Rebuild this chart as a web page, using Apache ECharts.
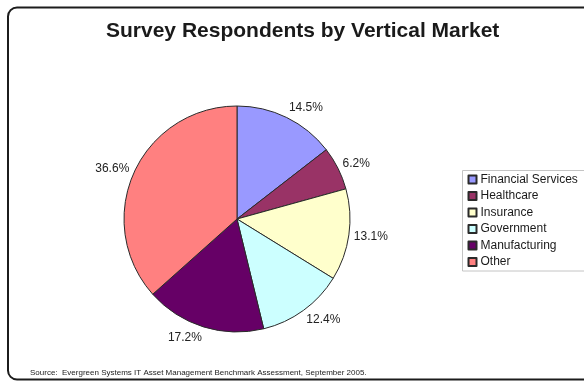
<!DOCTYPE html>
<html>
<head>
<meta charset="utf-8">
<script src="https://cdn.jsdelivr.net/npm/echarts@6/dist/echarts.min.js"></script>
<style>
  html, body { margin: 0; padding: 0; background: #fff; }
  #chart { width: 584px; height: 382px; }
</style>
</head>
<body>
<div id="chart"></div>
<script>
// Respondent share by vertical market (percent of all survey respondents)
const markets = ['Financial Services', 'Healthcare', 'Insurance', 'Government', 'Manufacturing', 'Other'];
const shares = [14.5, 6.2, 13.1, 12.4, 17.2, 36.6];
const sliceColors = ['#9999FF', '#993366', '#FFFFCC', '#CCFFFF', '#660066', '#FF8080'];

const titleText = 'Survey Respondents by Vertical Market';
const sourceText = 'Source:  Evergreen Systems IT Asset Management Benchmark Assessment, September 2005.';

const total = shares.reduce((a, b) => a + b, 0);
// Mid-angle of each slice, measured clockwise from 12 o'clock
const midAngles = [];
let acc = 0;
shares.forEach(v => {
  midAngles.push(2 * Math.PI * (acc + v / 2) / total);
  acc += v;
});

const chart = echarts.init(document.getElementById('chart'), null, { renderer: 'canvas' });

chart.setOption({
  animation: false,
  backgroundColor: '#ffffff',
  title: [
    {
      text: titleText,
      left: 106,
      top: 21,
      padding: 0,
      textStyle: { fontFamily: 'Liberation Sans, Arial, sans-serif', fontSize: 21, fontWeight: 'bold', color: '#1a1a1a' }
    },
    {
      text: sourceText,
      left: 30,
      top: 369,
      padding: 0,
      textStyle: { fontFamily: 'Liberation Sans, Arial, sans-serif', fontSize: 8, fontWeight: 'normal', color: '#222' }
    }
  ],
  graphic: [
    {
      type: 'rect',
      silent: true,
      z: -1,
      shape: { x: 8, y: 7.5, width: 640, height: 372, r: 9 },
      style: { fill: 'none', stroke: '#1c1c1c', lineWidth: 2 }
    }
  ],
  legend: {
    orient: 'vertical',
    left: 462.5,
    top: 170.5,
    padding: [3, 30, 3, 5],
    itemGap: 4.5,
    itemWidth: 8,
    itemHeight: 8,
    icon: 'rect',
    borderColor: '#c4c4c4',
    borderWidth: 1,
    backgroundColor: '#fff',
    data: markets,
    textStyle: { fontFamily: 'Liberation Sans, Arial, sans-serif', fontSize: 12, color: '#1a1a1a', padding: [0, 0, 0, -1] }
  },
  series: [
    {
      type: 'pie',
      center: [237, 219],
      radius: 113,
      startAngle: 90,
      clockwise: true,
      avoidLabelOverlap: false,
      data: markets.map((name, i) => ({ name: name, value: shares[i], itemStyle: { color: sliceColors[i] } })),
      itemStyle: { borderColor: '#2a2a2a', borderWidth: 1 },
      emphasis: { disabled: true },
      label: {
        show: true,
        position: 'outside',
        distanceToLabelLine: 0,
        formatter: p => p.value.toFixed(1) + '%',
        fontFamily: 'Liberation Sans, Arial, sans-serif',
        fontSize: 12,
        color: '#222'
      },
      labelLine: { show: false, length: 5, length2: 0 },
      // Nudge each label away from the pie so its nearest corner sits on the anchor point
      labelLayout: function (params) {
        const theta = midAngles[params.dataIndex];
        const h = params.labelRect.height;
        return { dy: -h / 2 * Math.cos(theta) };
      }
    }
  ]
});
</script>
</body>
</html>
